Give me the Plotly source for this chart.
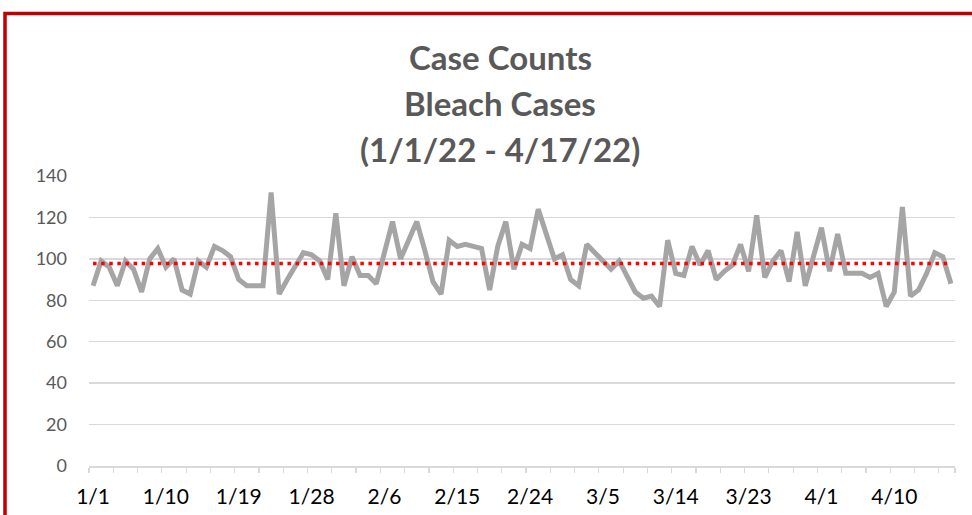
import pandas as pd
import numpy as np
import plotly.graph_objects as go

# ---- data ----
dates = pd.date_range("2022-01-01", "2022-04-17", freq="D")
date_labels = [f"{d.month}/{d.day}" for d in dates]
case_counts = [
    87, 99, 96, 87, 99, 95, 84, 100, 105, 96,
    100, 85, 83, 99, 96, 106, 104, 101, 90, 87,
    87, 87, 132, 83, 90, 97, 103, 102, 99, 90,
    122, 87, 101, 92, 92, 88, 103, 118, 100, 109,
    118, 104, 89, 83, 109, 106, 107, 106, 105, 85,
    106, 118, 95, 107, 105, 124, 112, 100, 102, 90,
    87, 107, 103, 99, 95, 99, 91, 84, 81, 82,
    77, 109, 93, 92, 106, 97, 104, 90, 94, 97,
    107, 94, 121, 91, 99, 104, 89, 113, 87, 100,
    115, 94, 112, 93, 93, 93, 91, 93, 77, 84,
    125, 82, 85, 93, 103, 101, 88,
]
average = float(np.mean(case_counts))
title_lines = ["Case Counts", "Bleach Cases", "(1/1/22 - 4/17/22)"]
label_every = 9
tick_every = 3
y_ticks = [0, 20, 40, 60, 80, 100, 120, 140]

x_idx = list(range(len(date_labels)))

# ---- geometry (pixels) ----
W, H = 972, 515
L, R, T, B = 89, 955, 176, 466
pw, ph = R - L, B - T

def px_x(px):
    return (px - L) / pw

def px_y(py):
    return (B - py) / ph

fig = go.Figure()
fig.add_trace(go.Scatter(
    x=x_idx, y=case_counts, mode="lines",
    line=dict(color="#A5A5A5", width=5),
    hoverinfo="skip", showlegend=False,
))
fig.add_trace(go.Scatter(
    x=x_idx, y=[average] * len(x_idx), mode="lines",
    line=dict(color="#FF0000", width=3.5, dash="3.5px,4.6px"),
    hoverinfo="skip", showlegend=False,
))

font = "Lato, 'Open Sans', sans-serif"
title_y = [57, 103, 149]
annotations = []
for txt, py in zip(title_lines, title_y):
    annotations.append(dict(
        text=f"<b>{txt}</b>", x=px_x(500), y=px_y(py),
        xref="paper", yref="paper", xanchor="center", yanchor="middle",
        showarrow=False, font=dict(family=font, size=33, color="#595959"),
    ))

fig.update_layout(
    width=W, height=H,
    margin=dict(l=L, r=W - R, t=T, b=H - B, autoexpand=False),
    paper_bgcolor="white", plot_bgcolor="white",
    annotations=annotations,
    hovermode=False,
    shapes=[dict(
        type="rect", xref="paper", yref="paper",
        x0=px_x(5), x1=px_x(1100), y0=px_y(700), y1=px_y(13.5),
        line=dict(color="#C00000", width=3.5), fillcolor="rgba(0,0,0,0)",
        layer="above",
    )],
)
fig.update_xaxes(
    automargin=False,
    range=[-0.5, len(x_idx) - 0.5],
    tickvals=x_idx[::label_every],
    ticktext=date_labels[::label_every],
    ticks="", showgrid=False, zeroline=False,
    showline=True, linecolor="#D9D9D9", linewidth=1.5,
    tickfont=dict(family=font, size=21, color="#000000"),
    ticklabelstandoff=11,
    minor=dict(tickvals=[i - 0.5 for i in x_idx[::tick_every]] + [len(x_idx) - 0.5],
               ticks="outside", ticklen=5, tickcolor="#D9D9D9", tickwidth=1.2,
               showgrid=False),
)
fig.update_yaxes(
    automargin=False,
    range=[0, 140], tickvals=y_ticks,
    showgrid=True, gridcolor="#D9D9D9", gridwidth=1.5,
    zeroline=False, showline=False, ticks="",
    tickfont=dict(family=font, size=18, color="#595959"),
    ticklabelstandoff=21,
)

fig.write_html(
    "out.html",
    config={"displayModeBar": False, "staticPlot": True},
    post_script="document.body.style.margin='0px';document.body.style.overflow='hidden';",
)
